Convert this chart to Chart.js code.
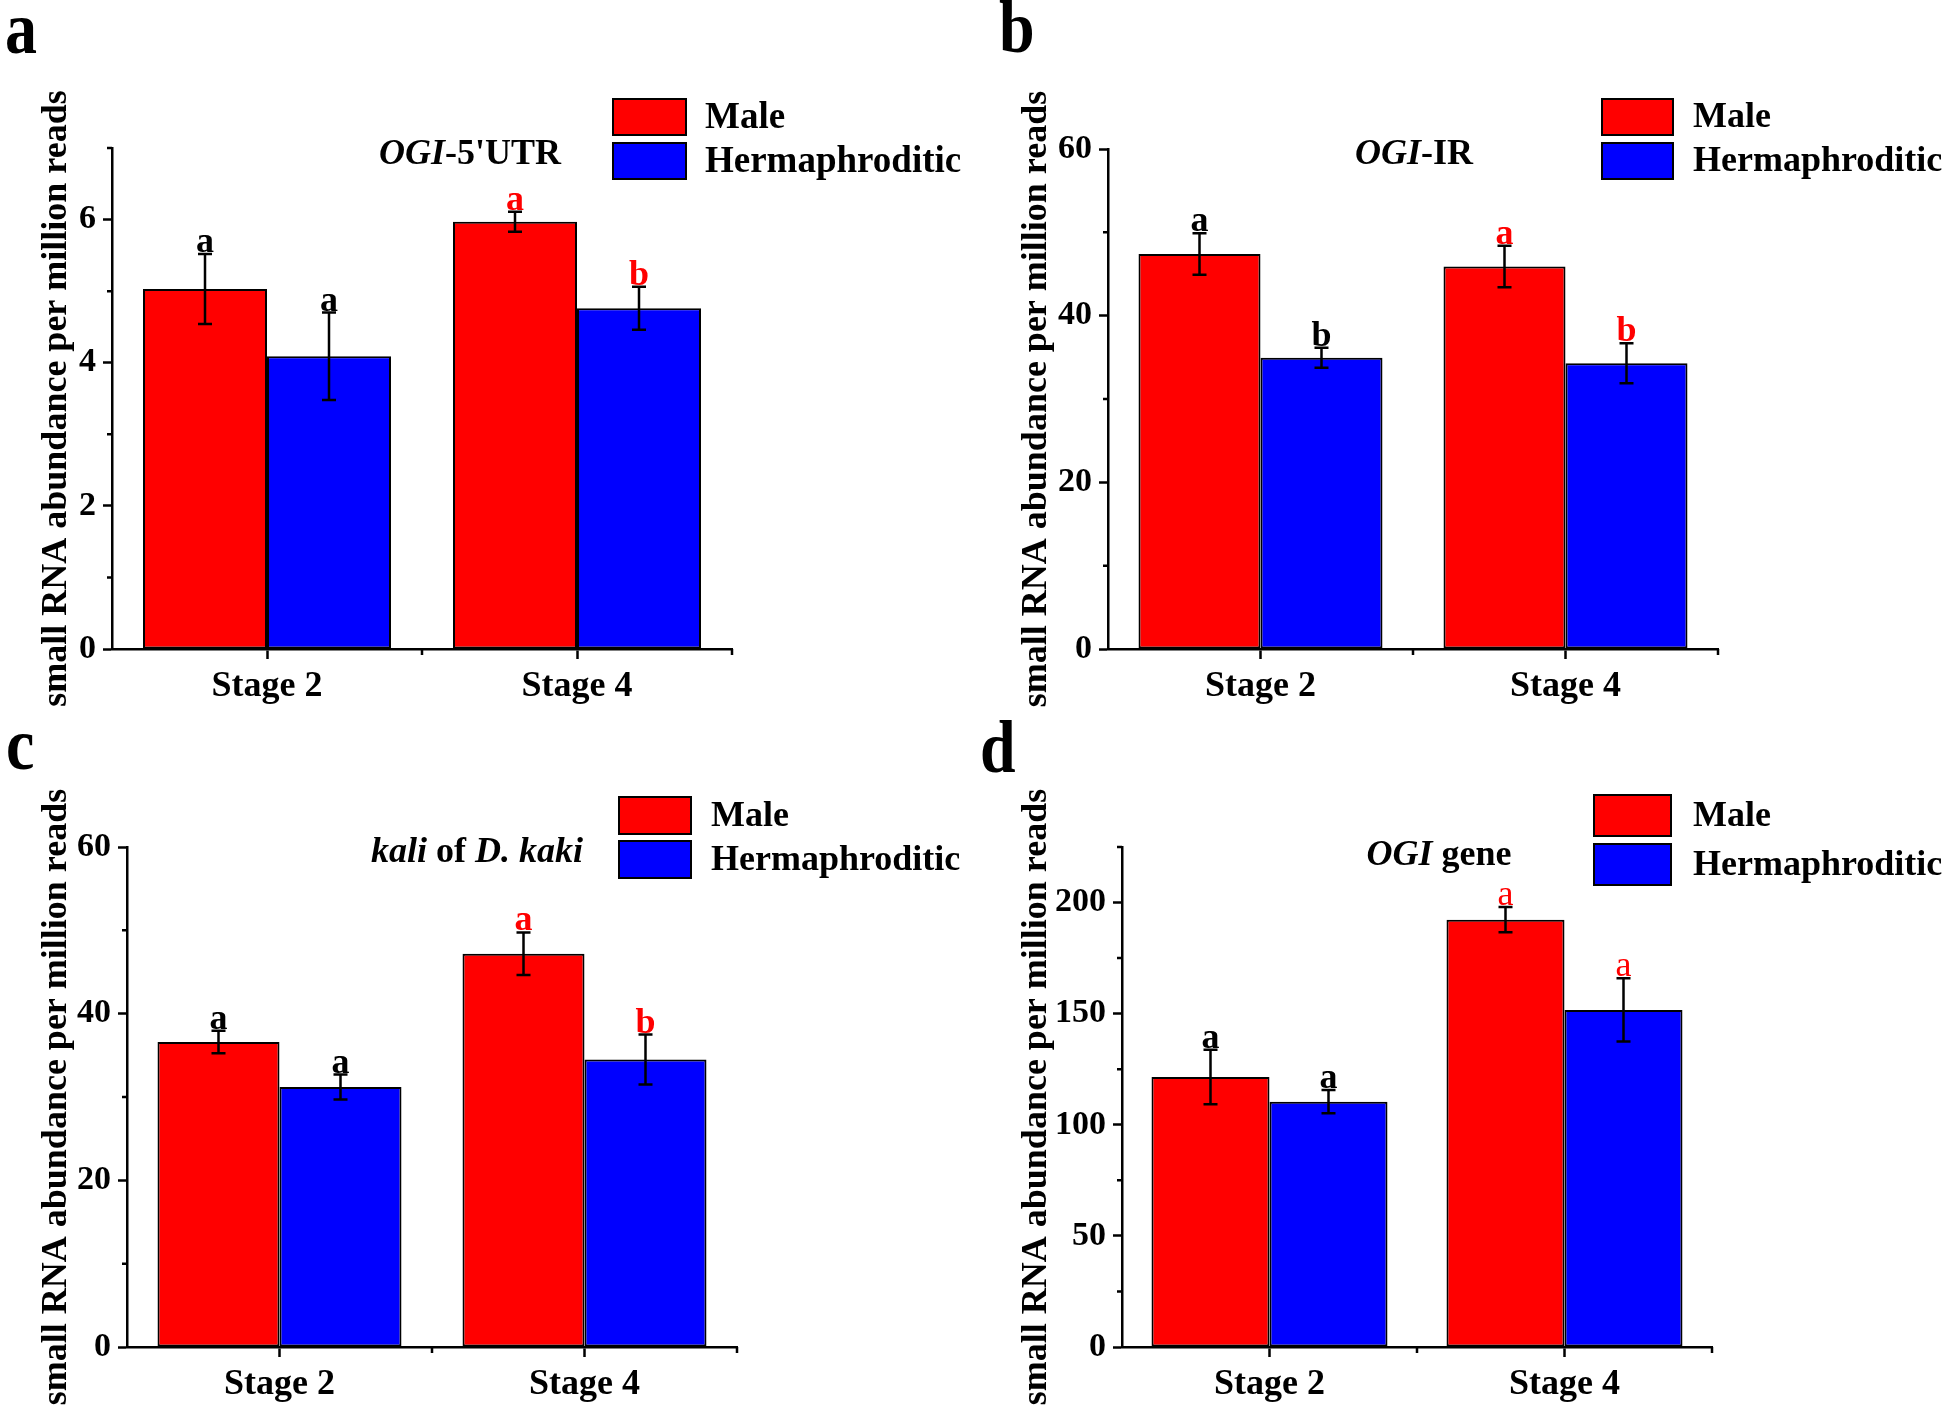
<!DOCTYPE html>
<html>
<head>
<meta charset="utf-8">
<title>small RNA abundance</title>
<script src="https://cdn.jsdelivr.net/npm/chart.js@4.4.1/dist/chart.umd.min.js"></script>
<style>
  html, body { margin: 0; padding: 0; background: #fff; }
  #wrap { position: relative; width: 1946px; height: 1414px; overflow: hidden; background: #fff; }
  .panel { position: absolute; width: 973px; height: 707px; }
</style>
</head>
<body>
<div id="wrap">
  <div class="panel" style="left:0;top:0"><canvas id="chart0" width="973" height="707"></canvas></div>
  <div class="panel" style="left:973px;top:0"><canvas id="chart1" width="973" height="707"></canvas></div>
  <div class="panel" style="left:0;top:707px"><canvas id="chart2" width="973" height="707"></canvas></div>
  <div class="panel" style="left:973px;top:707px"><canvas id="chart3" width="973" height="707"></canvas></div>
</div>
<script>
// data, one entry per panel (a, b, c, d)
const stages = ['Stage 2', 'Stage 4'];
const seriesNames = ['Male', 'Hermaphroditic'];
const panelTags = ['a', 'b', 'c', 'd'];
const maleMean = [[5.03, 5.97], [47.4, 45.9], [36.6, 47.2], [121.5, 192.3]];
const maleErr  = [[0.49, 0.14], [2.5, 2.5], [1.35, 2.55], [12.3, 5.7]];
const hermMean = [[4.09, 4.76], [34.95, 34.3], [31.2, 34.5], [110.4, 151.7]];
const hermErr  = [[0.61, 0.30], [1.2, 2.4], [1.5, 3.0], [5.2, 14.2]];
const maleSig  = [['a', 'a'], ['a', 'a'], ['a', 'a'], ['a', 'a']];
const hermSig  = [['a', 'b'], ['b', 'b'], ['a', 'b'], ['a', 'a']];
const yMax     = [7, 60, 60, 225];
const yMajor   = [[0, 2, 4, 6], [0, 20, 40, 60], [0, 20, 40, 60], [0, 50, 100, 150, 200]];
const yMinor   = [[1, 3, 5, 7], [10, 30, 50], [10, 30, 50], [25, 75, 125, 175, 225]];
const titles = [
  [['OGI', true], ["-5'UTR", false]],
  [['OGI', true], ['-IR', false]],
  [['kali', true], [' of ', false], ['D. kaki', true]],
  [['OGI', true], [' gene', false]]
];
const yTitle = 'small RNA abundance per million reads';

// layout of each panel inside its 973x707 canvas
const frames = [
  { left: 112, right: 732, top: 148, bottom: 649, legX: 613, legY: [99, 143], legW: 73, legH: 36, textX: 705, legFont: 37, titleX: 470, titleY: 155, tagX: 5, tagY: 53, yPad: 35 },
  { left: 135, right: 745, top: 149, bottom: 649, legX: 629, legY: [99, 143], legW: 71, legH: 36, textX: 720, legFont: 36, titleX: 441, titleY: 155, tagX: 26, tagY: 52, yPad: 42 },
  { left: 127, right: 737, top: 140, bottom: 640, legX: 619, legY: [90, 134], legW: 72, legH: 37, textX: 711, legFont: 36, titleX: 477, titleY: 146, tagX: 6, tagY: 62, yPad: 35 },
  { left: 149, right: 739, top: 140, bottom: 640, legX: 621, legY: [88, 137], legW: 77, legH: 41, textX: 720, legFont: 36, titleX: 466, titleY: 149, tagX: 7, tagY: 65, yPad: 42 }
];

const FONT = "'Liberation Serif', 'Times New Roman', serif";
const RED = '#ff0000';
const BLUE = '#0000ff';
const sigColors = ['#000000', '#ff0000'];

const decor = {
  id: 'decor',
  afterDatasetsDraw(chart, args, opts) {
    const ctx = chart.ctx;
    const ys = chart.scales.y;
    chart.data.datasets.forEach((ds, di) => {
      const meta = chart.getDatasetMeta(di);
      meta.data.forEach((bar, i) => {
        const v = ds.data[i], e = ds.errors[i];
        const yt = ys.getPixelForValue(v + e);
        const yb = ys.getPixelForValue(v - e);
        ctx.save();
        ctx.strokeStyle = '#000';
        ctx.lineWidth = 2.5;
        ctx.beginPath();
        ctx.moveTo(bar.x, yt); ctx.lineTo(bar.x, yb);
        ctx.moveTo(bar.x - 7, yt); ctx.lineTo(bar.x + 7, yt);
        ctx.moveTo(bar.x - 7, yb); ctx.lineTo(bar.x + 7, yb);
        ctx.stroke();
        // significance letter
        const regular = opts.redRegular && i === 1;
        ctx.fillStyle = sigColors[i];
        ctx.font = (regular ? '' : 'bold ') + '36px ' + FONT;
        ctx.textAlign = 'center';
        ctx.textBaseline = 'alphabetic';
        ctx.fillText(ds.sig[i], bar.x, yt - 2);
        ctx.restore();
      });
    });
  },
  afterDraw(chart, args, opts) {
    const ctx = chart.ctx;
    const ys = chart.scales.y, xs = chart.scales.x;
    const area = chart.chartArea;
    const f = opts.frame;
    ctx.save();
    ctx.strokeStyle = '#000';
    ctx.lineWidth = 2.5;
    ctx.beginPath();
    // minor ticks on y
    opts.minor.forEach(v => {
      const py = ys.getPixelForValue(v);
      ctx.moveTo(area.left - 5, py); ctx.lineTo(area.left, py);
    });
    // minor ticks on x at category boundaries
    [0.5, 1.5].forEach(v => {
      const px = xs.getPixelForValue(v);
      ctx.moveTo(px, area.bottom); ctx.lineTo(px, area.bottom + 6);
    });
    ctx.stroke();

    // legend
    chart.data.datasets.forEach((ds, di) => {
      const by = f.legY[di];
      ctx.fillStyle = ds.backgroundColor;
      ctx.fillRect(f.legX, by, f.legW, f.legH);
      ctx.lineWidth = 2;
      ctx.strokeRect(f.legX, by, f.legW, f.legH);
      ctx.fillStyle = '#000';
      ctx.font = 'bold ' + f.legFont + 'px ' + FONT;
      ctx.textAlign = 'left';
      ctx.textBaseline = 'middle';
      ctx.fillText(ds.label, f.textX, by + f.legH / 2 + 1);
    });

    // title with italic parts
    const parts = opts.title;
    const fontOf = it => (it ? 'italic bold ' : 'bold ') + '36px ' + FONT;
    let total = 0;
    parts.forEach(p => { ctx.font = fontOf(p[1]); total += ctx.measureText(p[0]).width; });
    let tx = f.titleX - total / 2;
    ctx.textAlign = 'left';
    ctx.textBaseline = 'middle';
    parts.forEach(p => {
      ctx.font = fontOf(p[1]);
      ctx.fillText(p[0], tx, f.titleY);
      tx += ctx.measureText(p[0]).width;
    });

    // panel tag
    ctx.translate(f.tagX, f.tagY);
    ctx.scale(1, 1.15);
    ctx.font = 'bold 64px ' + FONT;
    ctx.textBaseline = 'alphabetic';
    ctx.fillText(opts.tag, 0, 0);
    ctx.restore();
  }
};

function makePanel(p) {
  const f = frames[p];
  const H = 707, W = 973;
  return new Chart(document.getElementById('chart' + p), {
    type: 'bar',
    data: {
      labels: stages,
      datasets: [
        { label: seriesNames[0], data: maleMean[p], errors: maleErr[p], sig: maleSig[p],
          backgroundColor: RED, borderColor: '#000', borderWidth: 2, borderSkipped: false },
        { label: seriesNames[1], data: hermMean[p], errors: hermErr[p], sig: hermSig[p],
          backgroundColor: BLUE, borderColor: '#000', borderWidth: 2, borderSkipped: false }
      ]
    },
    options: {
      responsive: false,
      animation: false,
      events: [],
      categoryPercentage: 0.8,
      barPercentage: 1.0,
      layout: { padding: { left: 0, top: f.top, right: W - f.right, bottom: 0 } },
      plugins: {
        legend: { display: false },
        tooltip: { enabled: false },
        decor: { frame: f, minor: yMinor[p], title: titles[p], tag: panelTags[p], redRegular: p === 3 }
      },
      scales: {
        x: {
          offset: true,
          grid: { display: true, drawOnChartArea: false, offset: false, tickLength: 10, tickWidth: 2.5, tickColor: '#000' },
          border: { display: true, color: '#000', width: 2.5 },
          ticks: { color: '#000', padding: 6, maxRotation: 0, font: { family: FONT, size: 36, weight: 'bold' } },
          afterFit: s => { s.height = H - f.bottom; }
        },
        y: {
          min: 0,
          max: yMax[p],
          afterBuildTicks: s => { s.ticks = yMajor[p].map(v => ({ value: v })); },
          grid: { display: true, drawOnChartArea: false, tickLength: 9, tickWidth: 2.5, tickColor: '#000' },
          border: { display: true, color: '#000', width: 2.5 },
          ticks: { color: '#000', padding: 7, font: { family: FONT, size: 34, weight: 'bold' } },
          title: { display: true, text: yTitle, color: '#000', padding: { top: f.yPad, bottom: 0 },
                   font: { family: FONT, size: 36, weight: 'bold' } },
          afterFit: s => { s.width = f.left; }
        }
      }
    },
    plugins: [decor]
  });
}

[0, 1, 2, 3].forEach(makePanel);
</script>
</body>
</html>
